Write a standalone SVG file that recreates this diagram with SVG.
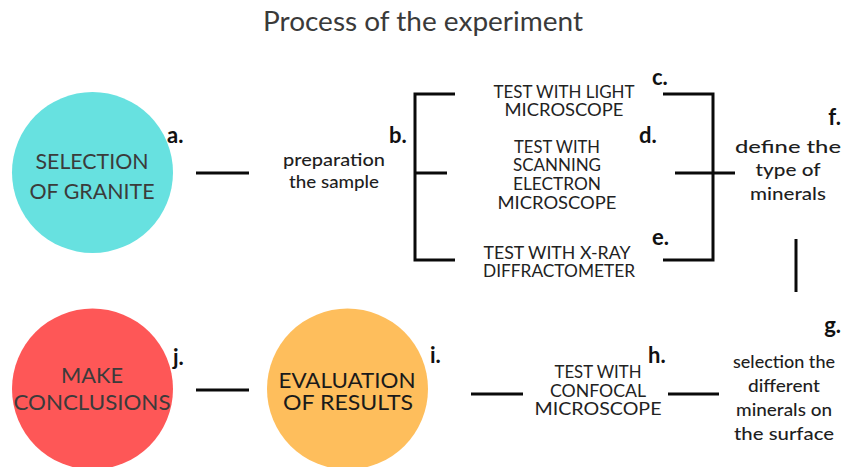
<svg xmlns="http://www.w3.org/2000/svg" width="846" height="467" viewBox="0 0 846 467">
  <style>
    .title { font-family: Lato, "Open Sans", sans-serif; font-size: 26px; fill: #3a3a3a; text-anchor: middle; }
    .caps { font-family: Lato, "Noto Sans", sans-serif; font-size: 17px; fill: #222; text-anchor: middle; }
    .circ { font-family: Lato, "Noto Sans", sans-serif; font-size: 21px; fill: #3b3b3b; text-anchor: middle; }
    .circ.dark { font-size: 22px; fill: #1a1a1a; }
    .desc { font-family: Lato, "Open Sans", sans-serif; font-size: 18px; fill: #1e1e1e; text-anchor: middle; font-weight: 500; }
    .tag { font-family: Lato, "Open Sans", sans-serif; font-size: 22px; font-weight: bold; fill: #111; }
    .ln { stroke: #0a0a0a; stroke-width: 3; fill: none; }
  </style>

  <text class="title" x="423" y="31" textLength="320" lengthAdjust="spacingAndGlyphs">Process of the experiment</text>

  <!-- connectors -->
  <g id="connectors">
    <line class="ln" x1="196" y1="173" x2="249" y2="173"/>
    <path class="ln" d="M455 94 H415 V260 H455 M415 173 H447"/>
    <path class="ln" d="M663 94 H713 V260 H663 M675 173 H735"/>
    <line class="ln" x1="796" y1="239" x2="796" y2="292"/>
    <line class="ln" x1="668" y1="394" x2="719" y2="394"/>
    <line class="ln" x1="471" y1="394" x2="523" y2="394"/>
    <line class="ln" x1="196" y1="390" x2="249" y2="390"/>
  </g>

  <!-- a. selection of granite -->
  <g id="node-a">
    <circle cx="92.5" cy="172.5" r="80.5" fill="#67e1e0"/>
    <text class="circ" x="92" y="169" textLength="113" lengthAdjust="spacingAndGlyphs">SELECTION</text>
    <text class="circ" x="92" y="199" textLength="125" lengthAdjust="spacingAndGlyphs">OF GRANITE</text>
    <text class="tag" x="167" y="143">a.</text>
  </g>

  <!-- b. preparation -->
  <g id="node-b">
    <text class="desc" x="334" y="166" textLength="102" lengthAdjust="spacingAndGlyphs">preparation</text>
    <text class="desc" x="334" y="188" textLength="90" lengthAdjust="spacingAndGlyphs">the sample</text>
    <text class="tag" x="389" y="143">b.</text>
  </g>

  <!-- c. light microscope -->
  <g id="node-c">
    <text class="caps" x="564" y="98" textLength="141" lengthAdjust="spacingAndGlyphs">TEST WITH LIGHT</text>
    <text class="caps" x="564" y="116" textLength="119" lengthAdjust="spacingAndGlyphs">MICROSCOPE</text>
    <text class="tag" x="652" y="85">c.</text>
  </g>

  <!-- d. scanning electron microscope -->
  <g id="node-d">
    <text class="caps" x="557" y="153" textLength="86" lengthAdjust="spacingAndGlyphs">TEST WITH</text>
    <text class="caps" x="557" y="171" textLength="88" lengthAdjust="spacingAndGlyphs">SCANNING</text>
    <text class="caps" x="557" y="190" textLength="88" lengthAdjust="spacingAndGlyphs">ELECTRON</text>
    <text class="caps" x="557" y="209" textLength="119" lengthAdjust="spacingAndGlyphs">MICROSCOPE</text>
    <text class="tag" x="639" y="143">d.</text>
  </g>

  <!-- e. x-ray diffractometer -->
  <g id="node-e">
    <text class="caps" x="557" y="259" textLength="147" lengthAdjust="spacingAndGlyphs">TEST WITH X-RAY</text>
    <text class="caps" x="559" y="277" textLength="152" lengthAdjust="spacingAndGlyphs">DIFFRACTOMETER</text>
    <text class="tag" x="652" y="245">e.</text>
  </g>

  <!-- f. define minerals -->
  <g id="node-f">
    <text class="desc" x="788" y="153" textLength="106" lengthAdjust="spacingAndGlyphs">define the</text>
    <text class="desc" x="788" y="176" textLength="65" lengthAdjust="spacingAndGlyphs">type of</text>
    <text class="desc" x="788" y="200" textLength="76" lengthAdjust="spacingAndGlyphs">minerals</text>
    <text class="tag" x="841" y="125" text-anchor="end">f.</text>
  </g>

  <!-- g. select minerals on surface -->
  <g id="node-g">
    <text class="desc" x="784" y="368" textLength="102" lengthAdjust="spacingAndGlyphs">selection the</text>
    <text class="desc" x="784" y="392" textLength="72" lengthAdjust="spacingAndGlyphs">different</text>
    <text class="desc" x="784" y="416" textLength="96" lengthAdjust="spacingAndGlyphs">minerals on</text>
    <text class="desc" x="784" y="440" textLength="100" lengthAdjust="spacingAndGlyphs">the surface</text>
    <text class="tag" x="841" y="333" text-anchor="end">g.</text>
  </g>

  <!-- h. confocal microscope -->
  <g id="node-h">
    <text class="caps" x="598" y="378" textLength="87" lengthAdjust="spacingAndGlyphs">TEST WITH</text>
    <text class="caps" x="598" y="397" textLength="96" lengthAdjust="spacingAndGlyphs">CONFOCAL</text>
    <text class="caps" x="598" y="415" textLength="127" lengthAdjust="spacingAndGlyphs">MICROSCOPE</text>
    <text class="tag" x="648" y="363">h.</text>
  </g>

  <!-- i. evaluation of results -->
  <g id="node-i">
    <circle cx="347.5" cy="389" r="80.5" fill="#febe5c"/>
    <text class="circ dark" x="347" y="388" textLength="137" lengthAdjust="spacingAndGlyphs">EVALUATION</text>
    <text class="circ dark" x="348" y="410" textLength="130" lengthAdjust="spacingAndGlyphs">OF RESULTS</text>
    <text class="tag" x="430" y="363">i.</text>
  </g>

  <!-- j. conclusions -->
  <g id="node-j">
    <circle cx="92.5" cy="389" r="80.5" fill="#fe5757"/>
    <text class="circ" x="92" y="383" textLength="62" lengthAdjust="spacingAndGlyphs">MAKE</text>
    <text class="circ" x="92" y="410" textLength="157" lengthAdjust="spacingAndGlyphs">CONCLUSIONS</text>
    <text class="tag" x="173" y="365">j.</text>
  </g>
</svg>
